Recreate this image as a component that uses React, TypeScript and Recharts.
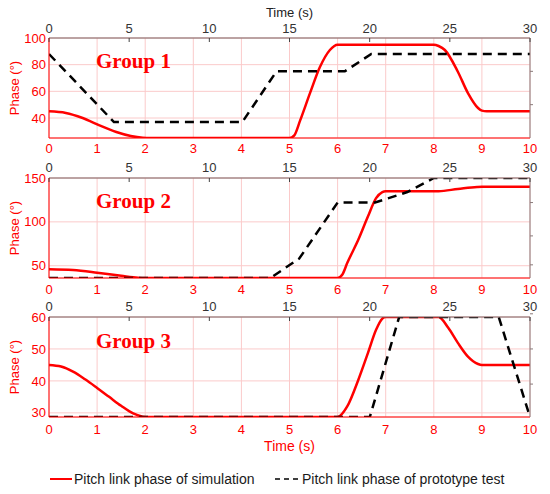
import React from 'react';
import { LineChart, Line, XAxis, YAxis, CartesianGrid } from 'recharts';

// ---------- data ----------
const bottomTicks = [0, 1, 2, 3, 4, 5, 6, 7, 8, 9, 10];
const topTicks = [0, 5, 10, 15, 20, 25, 30];
const groupNames = ['Group 1', 'Group 2', 'Group 3'];
const legendNames = ['Pitch link phase of simulation', 'Pitch link phase of prototype test'];

const yTicks1 = [40, 60, 80, 100];
const yTicks2 = [50, 100, 150];
const yTicks3 = [30, 40, 50, 60];
const rightTicks1 = [40, 50, 60, 75];
const rightTicks2 = [51, 84, 122];
const rightTicks3 = [39, 50, 61];
const yDomain1 = [25, 100];
const yDomain2 = [36, 150];
const yDomain3 = [28.7, 60];

const simulation1 = [
  { t: 0, v: 45 }, { t: 0.35, v: 43.8 }, { t: 0.7, v: 40 }, { t: 1.05, v: 34.5 },
  { t: 1.4, v: 29.5 }, { t: 1.7, v: 26.5 }, { t: 1.95, v: 25.2 }, { t: 2.1, v: 25 },
  { t: 5.0, v: 25 }, { t: 5.1, v: 27 }, { t: 5.22, v: 38 }, { t: 5.43, v: 59 },
  { t: 5.63, v: 78 }, { t: 5.84, v: 91 }, { t: 6.0, v: 95 }, { t: 8.0, v: 95 },
  { t: 8.1, v: 94 }, { t: 8.23, v: 91 }, { t: 8.5, v: 74.7 }, { t: 8.71, v: 58.7 },
  { t: 8.92, v: 47.5 }, { t: 9.0, v: 45.5 }, { t: 9.1, v: 45 }, { t: 10, v: 45 },
];
const prototype1 = [
  { t: 0, v: 88 }, { t: 1.35, v: 37 }, { t: 4.02, v: 37 }, { t: 4.73, v: 75 },
  { t: 6.15, v: 75 }, { t: 6.7, v: 88 }, { t: 10, v: 88 },
];

const simulation2 = [
  { t: 0, v: 46 }, { t: 0.5, v: 45 }, { t: 1.0, v: 42 }, { t: 1.5, v: 38.5 },
  { t: 1.85, v: 36.3 }, { t: 2.0, v: 36 }, { t: 6.0, v: 36 }, { t: 6.1, v: 40 },
  { t: 6.2, v: 53 }, { t: 6.43, v: 79.5 }, { t: 6.63, v: 106 }, { t: 6.8, v: 127 },
  { t: 6.93, v: 134 }, { t: 7.0, v: 135 }, { t: 8.1, v: 135 }, { t: 8.5, v: 137.5 },
  { t: 8.9, v: 139.8 }, { t: 9.0, v: 140 }, { t: 10, v: 140 },
];
const prototype2 = [
  { t: 0, v: 36 }, { t: 4.6, v: 36 }, { t: 5.2, v: 58 }, { t: 6.0, v: 122 },
  { t: 6.78, v: 122 }, { t: 7.45, v: 134 }, { t: 8.0, v: 150 }, { t: 10, v: 150 },
];

const simulation3 = [
  { t: 0, v: 45 }, { t: 0.25, v: 44.5 }, { t: 0.5, v: 42.9 }, { t: 0.75, v: 40.5 },
  { t: 1.0, v: 37.8 }, { t: 1.25, v: 35 }, { t: 1.5, v: 32.2 }, { t: 1.75, v: 29.8 },
  { t: 1.95, v: 28.8 }, { t: 2.05, v: 28.7 }, { t: 6.0, v: 28.7 }, { t: 6.2, v: 32 },
  { t: 6.43, v: 40.3 }, { t: 6.63, v: 48.7 }, { t: 6.8, v: 56 }, { t: 6.93, v: 59.5 },
  { t: 7.0, v: 60 }, { t: 8.1, v: 60 }, { t: 8.3, v: 56.6 }, { t: 8.5, v: 51.9 },
  { t: 8.71, v: 47.6 }, { t: 8.92, v: 45.3 }, { t: 9.0, v: 45 }, { t: 10, v: 45 },
];
const prototype3 = [
  { t: 0, v: 28.7 }, { t: 6.67, v: 28.7 }, { t: 7.28, v: 60 }, { t: 9.35, v: 60 },
  { t: 10, v: 28.7 },
];

// ---------- styling ----------
const SANS = 'Arial, "Liberation Sans", sans-serif';
const SERIF = '"Times New Roman", "Liberation Serif", serif';
const RED = '#ff0000';
const GRID = '#fbcaca';

type PanelProps = {
  top: number;
  height: number;
  bottomAxisHeight: number;
  sim: { t: number; v: number }[];
  proto: { t: number; v: number }[];
  domain: number[];
  yTicks: number[];
  rightTicks: number[];
  topMargin: number;
  bottomMargin: number;
  showTopTitle?: boolean;
  showBottomTitle?: boolean;
};

const emptyTick = () => <g />;

function makeTopTick(margin: number) {
  return (props: any) => {
    const { x, y, payload } = props;
    const axisY = y + margin;
    return (
      <g>
        <line x1={x} x2={x} y1={axisY} y2={axisY + 4} stroke="#444" strokeWidth={1} />
        <text x={x} y={y} textAnchor="middle" fill="#333" fontSize={13} fontFamily={SANS}>
          {payload.value}
        </text>
      </g>
    );
  };
}

function Panel(p: PanelProps) {
  return (
    <div style={{ position: 'absolute', left: 0, top: p.top }}>
      <LineChart width={550} height={p.height} margin={{ top: 0, right: 0, bottom: 0, left: 0 }} style={{ overflow: 'visible' }}>
        <CartesianGrid xAxisId="b" yAxisId="l" stroke={GRID} strokeWidth={1} />
        <XAxis
          xAxisId="t"
          orientation="top"
          type="number"
          dataKey="t"
          domain={[0, 30]}
          ticks={topTicks}
          height={38}
          allowDataOverflow
          stroke="#7a6060"
          tickLine={false}
          tickSize={0}
          tickMargin={p.topMargin}
          tick={makeTopTick(p.topMargin)}
          label={
            p.showTopTitle
              ? {
                  content: (props: any) => {
                    const vb = props.viewBox || { x: 49, y: 0, width: 481 };
                    return (
                      <text x={vb.x + vb.width / 2} y={(vb.y || 0) + 17} textAnchor="middle" fill="#222" fontSize={13} fontFamily={SANS}>
                        Time (s)
                      </text>
                    );
                  },
                }
              : undefined
          }
        />
        <XAxis
          xAxisId="b"
          orientation="bottom"
          type="number"
          dataKey="t"
          domain={[0, 10]}
          ticks={bottomTicks}
          height={p.bottomAxisHeight}
          allowDataOverflow
          stroke={RED}
          tickLine={false}
          tickSize={0}
          tickMargin={p.bottomMargin}
          tick={{ fill: RED, fontSize: 13, fontFamily: SANS }}
          label={
            p.showBottomTitle
              ? {
                  content: (props: any) => {
                    const vb = props.viewBox || { x: 49, y: 138, width: 481 };
                    return (
                      <text x={vb.x + vb.width / 2} y={vb.y + 34} textAnchor="middle" fill={RED} fontSize={14} fontFamily={SANS}>
                        Time (s)
                      </text>
                    );
                  },
                }
              : undefined
          }
        />
        <YAxis
          yAxisId="l"
          orientation="left"
          type="number"
          width={49}
          domain={p.domain}
          ticks={p.yTicks}
          allowDataOverflow
          stroke={RED}
          tickLine={false}
          tickSize={0}
          tickMargin={3}
          tick={{ fill: RED, fontSize: 13, fontFamily: SANS }}
          label={{
            content: (props: any) => {
              const vb = props.viewBox || { x: 0, y: 38, height: 100 };
              const cx = 18.5;
              const cy = vb.y + vb.height / 2;
              return (
                <text x={cx} y={cy} transform={`rotate(-90, ${cx}, ${cy})`} textAnchor="middle" fill={RED} fontSize={13} fontFamily={SANS}>
                  Phase (°)
                </text>
              );
            },
          }}
        />
        <YAxis
          yAxisId="r"
          orientation="right"
          type="number"
          width={20}
          domain={p.domain}
          ticks={p.rightTicks}
          allowDataOverflow
          stroke="#8a7a7a"
          tickSize={3}
          tick={emptyTick}
        />
        <Line
          xAxisId="b"
          yAxisId="l"
          data={p.sim}
          dataKey="v"
          type="monotone"
          stroke={RED}
          strokeWidth={2.5}
          dot={false}
          activeDot={false}
          isAnimationActive={false}
        />
        <Line
          xAxisId="b"
          yAxisId="l"
          data={p.proto}
          dataKey="v"
          type="linear"
          stroke="#000"
          strokeWidth={2.5}
          strokeDasharray="9 6"
          dot={false}
          activeDot={false}
          isAnimationActive={false}
        />
      </LineChart>
    </div>
  );
}

export default function App() {
  return (
    <div style={{ position: 'absolute', left: 0, top: 0, width: 550, height: 494, background: '#fff', overflow: 'hidden' }}>
      <Panel top={0} height={160} bottomAxisHeight={22} sim={simulation1} proto={prototype1} domain={yDomain1} yTicks={yTicks1} rightTicks={rightTicks1} topMargin={5} bottomMargin={6} showTopTitle />
      <Panel top={140} height={160} bottomAxisHeight={22} sim={simulation2} proto={prototype2} domain={yDomain2} yTicks={yTicks2} rightTicks={rightTicks2} topMargin={6} bottomMargin={7} />
      <Panel top={279} height={215} bottomAxisHeight={77} sim={simulation3} proto={prototype3} domain={yDomain3} yTicks={yTicks3} rightTicks={rightTicks3} topMargin={6} bottomMargin={8} showBottomTitle />
      <svg width={550} height={494} style={{ position: 'absolute', left: 0, top: 0, pointerEvents: 'none' }}>
        <text x={96} y={68} fill={RED} fontSize={21} fontWeight="bold" fontFamily={SERIF}>{groupNames[0]}</text>
        <text x={96} y={208} fill={RED} fontSize={21} fontWeight="bold" fontFamily={SERIF}>{groupNames[1]}</text>
        <text x={96} y={348} fill={RED} fontSize={21} fontWeight="bold" fontFamily={SERIF}>{groupNames[2]}</text>
        <line x1={50} x2={72} y1={479} y2={479} stroke={RED} strokeWidth={2} />
        <text x={74} y={483.5} fill="#1a1a1a" fontSize={14} fontFamily={SANS}>{legendNames[0]}</text>
        <line x1={275} x2={300} y1={479} y2={479} stroke="#000" strokeWidth={1.5} strokeDasharray="5 4" />
        <text x={302} y={483.5} fill="#1a1a1a" fontSize={14} fontFamily={SANS}>{legendNames[1]}</text>
      </svg>
    </div>
  );
}
